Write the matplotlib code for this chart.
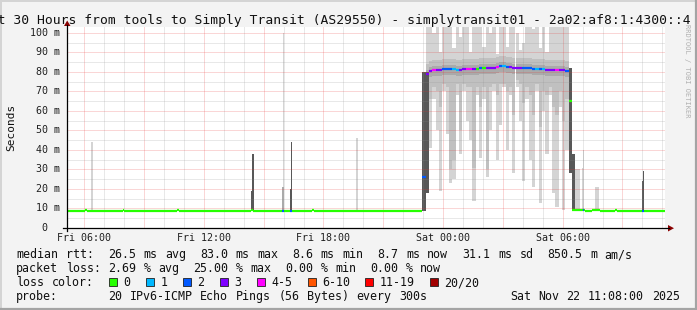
import matplotlib
matplotlib.use("Agg")
import matplotlib.pyplot as plt
from matplotlib.lines import Line2D
from matplotlib.patches import Polygon, Rectangle

W, H = 697, 310

title = "Last 30 Hours from tools to Simply Transit (AS29550) - simplytransit01 - 2a02:af8:1:4300::4"

# time axis: hours after Fri 05:08
first_full_hour = 52 / 60
xtick_labels = ["Fri 06:00", "Fri 12:00", "Fri 18:00", "Sat 00:00", "Sat 06:00"]
ytick_vals = [0, 10, 20, 30, 40, 50, 60, 70, 80, 90, 100]
ytick_labels = ["0", "10 m", "20 m", "30 m", "40 m", "50 m", "60 m", "70 m", "80 m", "90 m", "100 m"]

loss_colors = ["#26ff00", "#00b8ff", "#0059ff", "#7e00ff", "#ff00ff", "#ff5500", "#ff0000", "#a10000"]
loss_labels = ["0", "1", "2", "3", "4-5", "6-10", "11-19", "20/20"]

# median rtt in quiet periods: start h, end h, ms, loss class
seg_start = [0.00, 0.92, 1.00, 2.79, 2.87, 5.54, 5.62, 9.25, 9.33, 10.79, 10.87, 11.21, 11.29, 12.29, 12.37,
             17.83, 25.17, 25.33, 25.87, 25.95, 25.99, 26.34, 26.74, 27.49, 27.59, 28.87, 28.95]
seg_end = [0.92, 1.00, 2.79, 2.87, 5.54, 5.62, 9.25, 9.33, 10.79, 10.87, 11.21, 11.29, 12.29, 12.37, 17.83,
           18.00, 25.33, 25.87, 25.95, 25.99, 26.34, 26.74, 27.49, 27.59, 28.87, 28.95, 30.00]
seg_ms = [8.6, 9.2, 8.6, 9.2, 8.6, 9.2, 8.6, 9.2, 8.6, 8.6, 8.6, 8.6, 8.6, 9.2, 8.6,
          26.0, 65.0, 9.0, 9.0, 9.0, 8.5, 9.0, 8.5, 9.4, 8.5, 8.5, 8.5]
seg_loss = [0, 0, 0, 0, 0, 0, 0, 0, 0, 2, 0, 2, 0, 0, 0,
            2, 0, 0, 2, 0, 0, 0, 0, 0, 0, 2, 0]

# the busy block Fri 23:08 - Sat 06:18, one value per 10 minutes
busy_t0 = 18.0
busy_step = 1 / 6
busy_median = [79.0, 80.5, 81.0, 81.0, 81.0, 81.5, 81.5, 81.5, 81.5, 81.0,
               81.0, 81.5, 81.5, 81.5, 81.5, 81.5, 82.0, 82.0, 82.0, 82.0,
               82.0, 82.5, 83.0, 83.0, 82.5, 82.5, 82.0, 82.0, 82.0, 82.0,
               82.0, 82.0, 81.5, 81.5, 81.5, 81.5, 81.0, 81.0, 81.0, 81.0,
               81.0, 81.0, 80.5]
busy_loss = [3, 3, 4, 3, 3, 2, 2, 2, 1, 1,
             3, 3, 4, 4, 3, 0, 2, 0, 3, 3,
             3, 4, 2, 1, 2, 3, 3, 3, 3, 2,
             2, 2, 2, 1, 2, 1, 3, 3, 3, 4,
             3, 3, 2]
busy_low = [18, 41, 66, 50, 19, 70, 48, 23, 25, 68,
            38, 70, 55, 45, 14, 68, 36, 66, 26, 50,
            70, 35, 53, 72, 40, 68, 28, 72, 55, 24,
            66, 35, 21, 70, 13, 60, 38, 68, 18, 11,
            62, 9, 40]
busy_mid = [18, 66, 72, 70, 62, 74, 72, 30, 35, 74,
            50, 74, 72, 72, 31, 72, 62, 72, 30, 72,
            74, 68, 74, 74, 70, 72, 58, 76, 74, 64,
            72, 68, 58, 74, 52, 70, 68, 72, 62, 58,
            70, 55, 66]
busy_top = [110, 110, 100, 110, 90, 110, 104, 110, 92, 110,
            98, 110, 110, 90, 110, 104, 110, 93, 110, 100,
            110, 89, 110, 104, 93, 110, 110, 100, 91, 95,
            110, 110, 102, 110, 92, 110, 90, 110, 110, 104,
            110, 110, 110]

# separate smoke spikes: start h, end h, low ms, high ms, tone
spike_start = [1.21, 9.21, 9.29, 10.79, 10.83, 11.21, 11.25, 14.50, 14.52, 17.83, 18.00,
               25.17, 25.33, 25.50, 25.83, 25.88, 26.50, 28.83, 28.88]
spike_end = [1.29, 9.29, 9.37, 10.87, 10.87, 11.29, 11.29, 14.58, 14.58, 18.00, 18.17,
             25.33, 25.50, 25.75, 25.96, 25.96, 26.67, 28.96, 28.96]
spike_lo = [8.6, 8.6, 8.6, 8.6, 21, 8.6, 20, 8.6, 22, 8.6, 18,
            28, 9, 9, 9, 31, 9, 9, 24]
spike_hi = [44, 19, 38, 21, 100, 20, 44, 22, 46, 80, 80,
            82, 38, 30, 31, 40, 21, 24, 29]
spike_tone = [0, 3, 3, 2, 0, 3, 3, 0, 0, 3, 3,
              3, 3, 0, 0, 0, 0, 3, 3]
tones = ["#d4d4d4", "#c0c0c0", "#aaaaaa", "#585858"]

row_rtt = "median rtt:  26.5 ms avg  83.0 ms max  8.6 ms min  8.7 ms now  31.1 ms sd  850.5 m am/s"
row_loss = "packet loss: 2.69 % avg  25.00 % max  0.00 % min  0.00 % now"
row_probe = "probe:       20 IPv6-ICMP Echo Pings (56 Bytes) every 300s"
stamp = "Sat Nov 22 11:08:00 2025"

plt.rcParams['font.family'] = ['DejaVu Sans Mono']

COL_W = 7.09
LF = 8.35


def fx(x):
    return x / W


def fy(y):
    return 1 - y / H


def legend_row(text, x, base):
    # rrdtool places legend text on a fixed character grid; write it word by word
    col = 0
    for word in text.split(" "):
        if word:
            fig.text(fx(x + col * COL_W), fy(base), word, ha='left', va='baseline', fontsize=LF,
                     color='#101010')
        col += len(word) + 1


fig = plt.figure(figsize=(W / 100, H / 100), dpi=100, facecolor="#f3f3f3")
ax = fig.add_axes([fx(67), fy(228), fx(665) - fx(67), fy(27) - fy(228)])
ax.set_xlim(0, 30)
ax.set_ylim(0, 103)
ax.set_facecolor("white")
for s in ax.spines.values():
    s.set_visible(False)
ax.set_xticks([])
ax.set_yticks([])

# smoke
for j in range(len(busy_median)):
    x0 = busy_t0 + j * busy_step
    m = busy_median[j]
    ax.bar(x0, busy_top[j] - busy_low[j], busy_step, busy_low[j], align='edge', color=tones[0], lw=0, zorder=2)
    ax.bar(x0, m + 5 - busy_mid[j], busy_step, busy_mid[j], align='edge', color=tones[1], lw=0, zorder=2)
    ax.bar(x0, 5, busy_step, m - 3, align='edge', color=tones[2], lw=0, zorder=2)
for s, e, lo, hi, t in zip(spike_start, spike_end, spike_lo, spike_hi, spike_tone):
    ax.bar(s, hi - lo, e - s, lo, align='edge', color=tones[t], lw=0, zorder=2)

# grid
dot = (0, (1, 1))
major = (0.9, 0.2, 0.2, 0.4)
minor = (0.55, 0.55, 0.55, 0.38)
h = first_full_hour
k = 0
while h < 30:
    ax.axvline(h, color=major if k % 3 == 0 else minor, lw=0.72, ls=dot, zorder=4)
    h += 1
    k += 1
for v in range(5, 103, 5):
    ax.axhline(v, color=major if v % 10 == 0 else minor, lw=0.72, ls=dot, zorder=4)

# median line
for s, e, v, n in zip(seg_start, seg_end, seg_ms, seg_loss):
    ax.plot([s, e], [v, v], color=loss_colors[n], lw=1.6, solid_capstyle='butt', zorder=5)
for j in range(len(busy_median)):
    x0 = busy_t0 + j * busy_step
    ax.plot([x0, x0 + busy_step], [busy_median[j]] * 2, color=loss_colors[busy_loss[j]],
            lw=1.6, solid_capstyle='butt', zorder=5)

# tick labels
for v, lab in zip(ytick_vals, ytick_labels):
    off = -7 if lab != "0" else -20
    ax.annotate(lab, xy=(0, v), xycoords=('axes fraction', 'data'), xytext=(off, 0),
                textcoords='offset pixels', ha='right', va='center', fontsize=7.2, color='#202020')
for i, lab in enumerate(xtick_labels):
    ax.annotate(lab, xy=(first_full_hour + 6 * i, 0), xycoords='data', xytext=(0, -10),
                textcoords='offset pixels', ha='center', va='center', fontsize=7.2, color='#202020')

# axes with arrows
fig.add_artist(Line2D([fx(67), fx(67)], [fy(231), fy(25)], color='black', lw=0.9))
fig.add_artist(Line2D([fx(63), fx(669)], [fy(228), fy(228)], color='black', lw=0.9))
fig.add_artist(Polygon([(fx(64), fy(26)), (fx(70.5), fy(26)), (fx(67.2), fy(20.5))], closed=True,
                       color='#8b0000', lw=0))
fig.add_artist(Polygon([(fx(668), fy(225)), (fx(668), fy(231.5)), (fx(674), fy(228.2))], closed=True,
                       color='#8b0000', lw=0))

# title and labels
fig.text(fx(-26.5), fy(24), title, ha='left', va='baseline', fontsize=9.4, color='#101010')
fig.text(fx(11), fy(127.5), "Seconds", rotation=90, ha='center', va='center', fontsize=8, color='#101010')
fig.text(fx(686.5), fy(71), "RRDTOOL / TOBI OETIKER", rotation=270, ha='center', va='center',
         fontsize=5, color='#b0b0b0')

# legend block
legend_row(row_rtt, 16, 258)
legend_row(row_loss, 16, 272)
legend_row("loss color:", 16, 286)
for x, c, t in zip([108.5, 145.5, 182.5, 219.5, 256.5, 307.5, 364.5, 429.5], loss_colors, loss_labels):
    fig.add_artist(Rectangle((fx(x), fy(286)), 8 / W, 8 / H, facecolor=c, edgecolor='#202020', lw=0.6))
    fig.text(fx(x + 15), fy(286), t, ha='left', va='baseline', fontsize=LF, color='#101010')
legend_row(row_probe, 16, 300)
legend_row(stamp, 680 - len(stamp) * COL_W, 300)

# outer frame
fig.add_artist(Line2D([0, 1], [fy(0.5), fy(0.5)], color='#d4d4d4', lw=1.4))
fig.add_artist(Line2D([fx(0.5), fx(0.5)], [0, 1], color='#d4d4d4', lw=1.4))
fig.add_artist(Line2D([0, 1], [fy(309), fy(309)], color='#a4a4a4', lw=1.6))
fig.add_artist(Line2D([fx(696), fx(696)], [0, 1], color='#a4a4a4', lw=1.6))

fig.savefig("out.png", dpi=100, facecolor=fig.get_facecolor())
